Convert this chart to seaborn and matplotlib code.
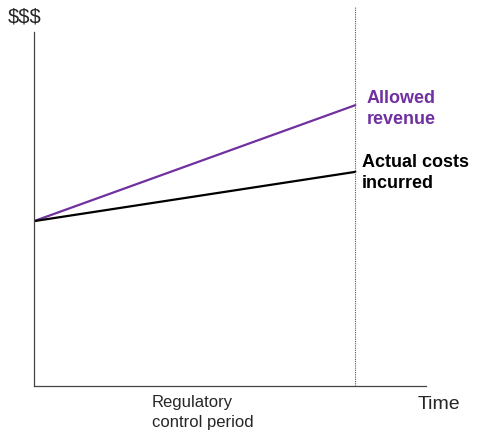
import pandas as pd
import numpy as np
import seaborn as sns
import matplotlib.pyplot as plt

# data (arbitrary units)
period = [0, 10]
allowed_revenue = [43.5, 74.1]
actual_costs = [43.5, 56.5]
period_end = 10

sns.set_style('white')
plt.rcParams['font.family'] = ['Liberation Sans', 'DejaVu Sans']

df = pd.DataFrame({
    'time': period * 2,
    'value': allowed_revenue + actual_costs,
    'series': ['Allowed revenue'] * 2 + ['Actual costs incurred'] * 2,
})

W, H = 480, 439
fig = plt.figure(figsize=(W / 100, H / 100), dpi=100)
# axes placed in pixel coords: x 34..426, y 8..387 (from top)
ax = fig.add_axes([34 / W, (H - 387) / H, (426 - 34) / W, (387 - 8) / H])

sns.lineplot(data=df, x='time', y='value', hue='series',
             palette={'Allowed revenue': '#7030a0', 'Actual costs incurred': 'black'},
             linewidth=1.6, legend=False, ax=ax)
ax.axvline(period_end, color='#555555', linestyle=(0, (1, 1)), linewidth=0.8)

ax.set_xlim(0, 12.2)
ax.set_ylim(0, 100)
ax.set_xticks([])
ax.set_yticks([])
ax.set_xlabel('')
ax.set_ylabel('')
sns.despine(ax=ax)
ax.spines['left'].set_bounds(0, 93.4)
for s in ['left', 'bottom']:
    ax.spines[s].set_color('#444444')
    ax.spines[s].set_linewidth(0.9)

def ftext(x, y, s, **kw):
    fig.text(x / W, 1 - y / H, s, va='top', ha='left', **kw)

ftext(8, 8, '$$$', fontsize=14.5)
ftext(367, 90, 'Allowed\nrevenue', fontsize=13, fontweight='bold',
      color='#7030a0', linespacing=1.3)
ftext(362, 154, 'Actual costs\nincurred', fontsize=13, fontweight='bold',
      color='black', linespacing=1.3)
ftext(418, 396, 'Time', fontsize=14)
ftext(152, 395, 'Regulatory\ncontrol period', fontsize=12, linespacing=1.4)

fig.savefig('out.png', dpi=100)
